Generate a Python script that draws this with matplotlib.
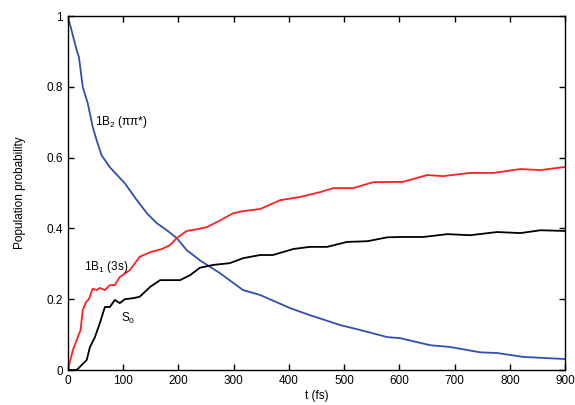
import matplotlib
matplotlib.use("Agg")
import matplotlib.pyplot as plt

plt.rcParams['font.family'] = ['Liberation Sans', 'DejaVu Sans']
plt.rcParams['mathtext.default'] = 'regular'

t_b2 = [0, 16, 20, 27, 36, 45, 52, 61, 76, 103, 125, 143, 161, 179, 197, 215, 239, 275, 317, 348, 402, 438, 493, 529, 578, 601, 656, 692, 746, 777, 824, 900]
p_b2 = [1.0, 0.904, 0.885, 0.80, 0.754, 0.687, 0.65, 0.607, 0.573, 0.528, 0.48, 0.443, 0.415, 0.395, 0.373, 0.339, 0.31, 0.274, 0.226, 0.212, 0.175, 0.155, 0.127, 0.113, 0.093, 0.09, 0.07, 0.065, 0.05, 0.048, 0.037, 0.031]

t_b1 = [0, 9, 18, 23, 27, 33, 38, 45, 52, 58, 67, 76, 85, 94, 112, 130, 149, 170, 185, 197, 215, 234, 252, 272, 299, 317, 348, 384, 420, 457, 480, 516, 553, 607, 650, 679, 728, 770, 819, 855, 900]
p_b1 = [0.0, 0.056, 0.093, 0.113, 0.17, 0.192, 0.2, 0.23, 0.226, 0.232, 0.226, 0.24, 0.24, 0.263, 0.282, 0.32, 0.333, 0.342, 0.353, 0.373, 0.393, 0.398, 0.404, 0.42, 0.443, 0.449, 0.455, 0.48, 0.489, 0.503, 0.514, 0.514, 0.531, 0.532, 0.551, 0.548, 0.557, 0.557, 0.568, 0.565, 0.574]

t_s0 = [0, 16, 34, 40, 49, 58, 67, 76, 85, 94, 103, 118, 130, 149, 167, 185, 203, 221, 239, 263, 293, 317, 348, 371, 408, 438, 469, 505, 542, 578, 601, 643, 687, 728, 777, 819, 855, 900]
p_s0 = [0.0, 0.0, 0.028, 0.065, 0.093, 0.133, 0.178, 0.178, 0.198, 0.189, 0.2, 0.203, 0.207, 0.235, 0.254, 0.254, 0.254, 0.268, 0.289, 0.297, 0.302, 0.316, 0.325, 0.325, 0.342, 0.348, 0.348, 0.362, 0.364, 0.375, 0.376, 0.376, 0.384, 0.381, 0.39, 0.387, 0.395, 0.393]

fig = plt.figure(figsize=(5.75, 4.05), dpi=100)
ax = fig.add_axes([0.118, 0.0864, 0.865, 0.8736])
ax.plot(t_b2, p_b2, color='#3050b0', lw=1.3)
ax.plot(t_b1, p_b1, color='#ff2020', lw=1.3)
ax.plot(t_s0, p_s0, color='black', lw=1.3)
ax.set_xlim(0, 900)
ax.set_ylim(0, 1)
ax.set_xticks(range(0, 901, 100))
ax.set_yticks([0, 0.2, 0.4, 0.6, 0.8, 1.0])
ax.set_yticklabels(['0', '0.2', '0.4', '0.6', '0.8', '1'])
ax.tick_params(direction='in', top=True, right=True, length=4, labelsize=8.5, width=1)
for s in ax.spines.values():
    s.set_linewidth(1)
ax.set_xlabel('t (fs)', fontsize=8.5, labelpad=2)
ax.set_ylabel('Population probability', fontsize=8.5, labelpad=15)
ax.text(50, 0.70, '1B$_2$ (ππ*)', fontsize=8.5, va='center', ha='left')
ax.text(30, 0.29, '1B$_1$ (3s)', fontsize=8.5, va='center', ha='left')
ax.text(97, 0.145, 'S$_0$', fontsize=8.5, va='center', ha='left')
fig.savefig('out.png', dpi=100)
